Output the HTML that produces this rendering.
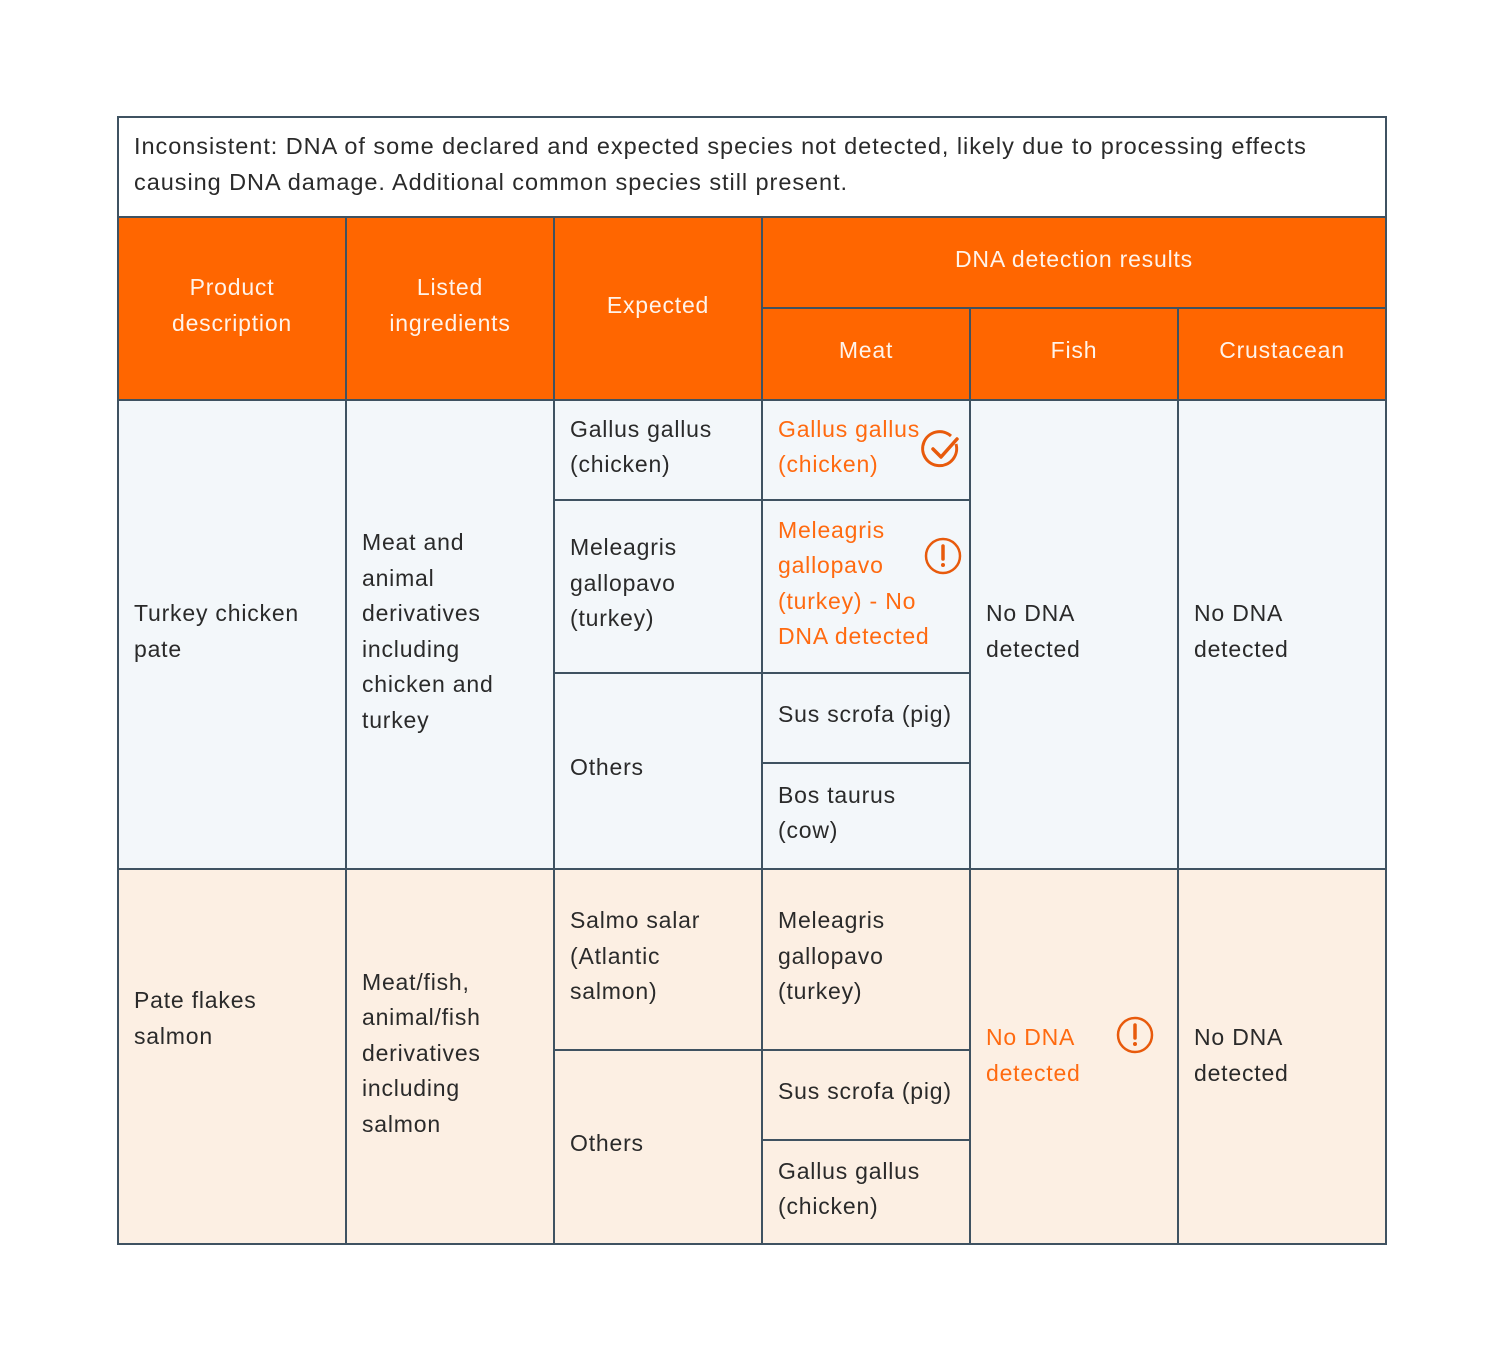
<!DOCTYPE html>
<html><head><meta charset="utf-8"><style>
body{margin:0;width:1504px;height:1359px;background:#fff;position:relative;font-family:"Liberation Sans",sans-serif;overflow:hidden}
.c{position:absolute;box-sizing:border-box;border:2px solid #3f5261;display:flex;align-items:center;padding-left:15px;padding-bottom:6px;font-size:23px;line-height:35.5px;color:#2a2a2a;letter-spacing:0.8px}
.h{background:#ff6600;color:#fff3ea;justify-content:center;padding:0 0 6px 0;text-align:center}
.b{background:#f3f7fa}
.p{background:#fcefe3}
.o{color:#ff6a10}
svg{position:absolute}
</style></head><body>
<div class="c" style="left:117px;top:116px;width:1270px;height:102px;background:#fff;font-size:23.5px;line-height:36px;letter-spacing:0.95px">Inconsistent: DNA of some declared and expected species not detected, likely due to processing effects<br>causing DNA damage. Additional common species still present.</div>

<div class="c h" style="left:117px;top:216px;width:230px;height:185px">Product<br>description</div>
<div class="c h" style="left:345px;top:216px;width:210px;height:185px">Listed<br>ingredients</div>
<div class="c h" style="left:553px;top:216px;width:210px;height:185px">Expected</div>
<div class="c h" style="left:761px;top:216px;width:626px;height:93px">DNA detection results</div>
<div class="c h" style="left:761px;top:307px;width:210px;height:94px">Meat</div>
<div class="c h" style="left:969px;top:307px;width:210px;height:94px">Fish</div>
<div class="c h" style="left:1177px;top:307px;width:210px;height:94px">Crustacean</div>

<div class="c b" style="left:117px;top:399px;width:230px;height:471px">Turkey chicken<br>pate</div>
<div class="c b" style="left:345px;top:399px;width:210px;height:471px">Meat and<br>animal<br>derivatives<br>including<br>chicken and<br>turkey</div>
<div class="c b" style="left:553px;top:399px;width:210px;height:102px">Gallus gallus<br>(chicken)</div>
<div class="c b" style="left:553px;top:499px;width:210px;height:175px">Meleagris<br>gallopavo<br>(turkey)</div>
<div class="c b" style="left:553px;top:672px;width:210px;height:198px">Others</div>
<div class="c b o" style="left:761px;top:399px;width:210px;height:102px">Gallus gallus<br>(chicken)</div>
<div class="c b o" style="left:761px;top:499px;width:210px;height:175px">Meleagris<br>gallopavo<br>(turkey) - No<br>DNA detected</div>
<div class="c b" style="left:761px;top:672px;width:210px;height:92px">Sus scrofa (pig)</div>
<div class="c b" style="left:761px;top:762px;width:210px;height:108px">Bos taurus<br>(cow)</div>
<div class="c b" style="left:969px;top:399px;width:210px;height:471px">No DNA<br>detected</div>
<div class="c b" style="left:1177px;top:399px;width:210px;height:471px">No DNA<br>detected</div>

<div class="c p" style="left:117px;top:868px;width:230px;height:377px;padding-bottom:76px">Pate flakes<br>salmon</div>
<div class="c p" style="left:345px;top:868px;width:210px;height:377px;padding-bottom:6px">Meat/fish,<br>animal/fish<br>derivatives<br>including<br>salmon</div>
<div class="c p" style="left:553px;top:868px;width:210px;height:183px">Salmo salar<br>(Atlantic<br>salmon)</div>
<div class="c p" style="left:553px;top:1049px;width:210px;height:196px">Others</div>
<div class="c p" style="left:761px;top:868px;width:210px;height:183px">Meleagris<br>gallopavo<br>(turkey)</div>
<div class="c p" style="left:761px;top:1049px;width:210px;height:92px">Sus scrofa (pig)</div>
<div class="c p" style="left:761px;top:1139px;width:210px;height:106px">Gallus gallus<br>(chicken)</div>
<div class="c p o" style="left:969px;top:868px;width:210px;height:377px;padding-top:4px">No DNA<br>detected</div>
<div class="c p" style="left:1177px;top:868px;width:210px;height:377px;padding-top:4px">No DNA<br>detected</div>

<svg style="left:920px;top:427px" width="46" height="46" viewBox="0 0 46 46"><path d="M36 17 A17 17 0 1 1 31 9" fill="none" stroke="#e85a0c" stroke-width="3"/><path d="M13 22 L21 30 L37 12" fill="none" stroke="#e85a0c" stroke-width="3.5" stroke-linecap="round" stroke-linejoin="round"/></svg>
<svg style="left:920px;top:533px" width="46" height="46" viewBox="0 0 46 46"><circle cx="23" cy="23" r="17" fill="none" stroke="#e85a0c" stroke-width="2.5"/><path d="M23 13 L23 26" stroke="#e85a0c" stroke-width="3.5" stroke-linecap="round"/><circle cx="23" cy="32" r="2" fill="#e85a0c"/></svg>
<svg style="left:1112px;top:1012px" width="46" height="46" viewBox="0 0 46 46"><circle cx="23" cy="23" r="17" fill="none" stroke="#e85a0c" stroke-width="2.5"/><path d="M23 13 L23 26" stroke="#e85a0c" stroke-width="3.5" stroke-linecap="round"/><circle cx="23" cy="32" r="2" fill="#e85a0c"/></svg>
</body></html>
